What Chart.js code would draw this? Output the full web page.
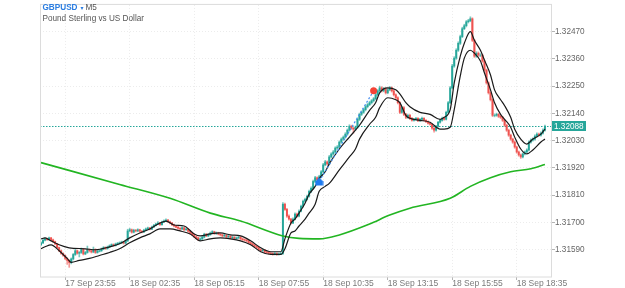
<!DOCTYPE html>
<html>
<head>
<meta charset="utf-8">
<title>GBPUSD M5</title>
<script src="https://cdn.jsdelivr.net/npm/chart.js@4.4.0/dist/chart.umd.min.js"></script>
<style>
  html, body { margin: 0; padding: 0; background: #fff; }
</style>
</head>
<body>
<canvas id="chart" width="625" height="288"></canvas>
<script>
const symbol = "GBPUSD";
const timeframe = "M5";
const description = "Pound Sterling vs US Dollar";

// bar index of each time label (one bar = 5 minutes)
const xTickIdx = [12, 44, 76, 108, 140, 172, 204, 236];
const xTickLabels = ["17 Sep 23:55", "18 Sep 02:35", "18 Sep 05:15", "18 Sep 07:55",
  "18 Sep 10:35", "18 Sep 13:15", "18 Sep 15:55", "18 Sep 18:35"];
const yTicks = [1.31590, 1.31700, 1.31810, 1.31920, 1.32030, 1.32140, 1.32250, 1.32360, 1.32470];

const open = [
1.31610,1.31617,1.31628,1.31633,1.31630,1.31637,1.31629,1.31622,1.31613,1.31598,
1.31585,1.31574,1.31566,1.31554,1.31546,1.31538,1.31552,1.31570,1.31585,1.31575,
1.31578,1.31590,1.31572,1.31578,1.31588,1.31585,1.31580,1.31590,1.31578,1.31583,
1.31585,1.31592,1.31598,1.31594,1.31600,1.31605,1.31610,1.31606,1.31612,1.31615,
1.31617,1.31620,1.31616,1.31625,1.31665,1.31670,1.31660,1.31668,1.31665,1.31670,
1.31664,1.31661,1.31668,1.31673,1.31677,1.31672,1.31681,1.31688,1.31693,1.31697,
1.31690,1.31701,1.31705,1.31709,1.31702,1.31697,1.31690,1.31685,1.31680,1.31676,
1.31673,1.31678,1.31670,1.31673,1.31664,1.31657,1.31650,1.31642,1.31637,1.31630,
1.31633,1.31640,1.31652,1.31645,1.31650,1.31657,1.31662,1.31654,1.31657,1.31652,
1.31649,1.31645,1.31648,1.31641,1.31644,1.31637,1.31640,1.31634,1.31637,1.31640,
1.31633,1.31630,1.31628,1.31625,1.31618,1.31613,1.31608,1.31603,1.31598,1.31590,
1.31585,1.31588,1.31580,1.31578,1.31575,1.31574,1.31571,1.31574,1.31570,1.31572,
1.31574,1.31773,1.31752,1.31725,1.31713,1.31697,1.31713,1.31733,1.31725,1.31745,
1.31765,1.31785,1.31793,1.31805,1.31825,1.31837,1.31865,1.31880,1.31872,1.31884,
1.31904,1.31932,1.31944,1.31936,1.31964,1.31976,1.31984,1.32000,1.32004,1.32024,
1.32036,1.32044,1.32056,1.32072,1.32088,1.32080,1.32076,1.32084,1.32116,1.32136,
1.32144,1.32155,1.32167,1.32175,1.32183,1.32191,1.32199,1.32215,1.32231,1.32243,
1.32231,1.32239,1.32223,1.32235,1.32243,1.32231,1.32215,1.32203,1.32183,1.32144,
1.32163,1.32136,1.32124,1.32132,1.32120,1.32112,1.32116,1.32120,1.32110,1.32116,
1.32120,1.32112,1.32106,1.32100,1.32096,1.32080,1.32072,1.32088,1.32104,1.32112,
1.32120,1.32116,1.32144,1.32183,1.32243,1.32331,1.32363,1.32395,1.32423,1.32450,
1.32482,1.32494,1.32510,1.32514,1.32522,1.32435,1.32371,1.32383,1.32375,1.32375,
1.32351,1.32315,1.32263,1.32223,1.32195,1.32132,1.32132,1.32136,1.32128,1.32124,
1.32112,1.32092,1.32072,1.32052,1.32036,1.32024,1.32004,1.31984,1.31972,1.31964,
1.31976,1.31984,1.31992,1.32024,1.32032,1.32036,1.32048,1.32056,1.32052,1.32060,
1.32072
];
const high = [
1.31621,1.31631,1.31637,1.31636,1.31640,1.31639,1.31632,1.31624,1.31615,1.31600,
1.31588,1.31577,1.31568,1.31557,1.31549,1.31556,1.31574,1.31592,1.31588,1.31582,
1.31596,1.31593,1.31583,1.31604,1.31592,1.31589,1.31600,1.31593,1.31588,1.31590,
1.31596,1.31602,1.31601,1.31604,1.31609,1.31613,1.31613,1.31616,1.31619,1.31621,
1.31624,1.31623,1.31629,1.31672,1.31676,1.31673,1.31672,1.31671,1.31674,1.31672,
1.31667,1.31672,1.31677,1.31681,1.31680,1.31685,1.31692,1.31697,1.31703,1.31700,
1.31705,1.31710,1.31714,1.31712,1.31705,1.31700,1.31693,1.31688,1.31684,1.31679,
1.31682,1.31680,1.31677,1.31675,1.31667,1.31660,1.31653,1.31645,1.31640,1.31637,
1.31644,1.31656,1.31655,1.31654,1.31661,1.31666,1.31664,1.31661,1.31660,1.31655,
1.31652,1.31652,1.31650,1.31648,1.31646,1.31644,1.31642,1.31641,1.31644,1.31642,
1.31636,1.31633,1.31631,1.31628,1.31621,1.31616,1.31611,1.31606,1.31601,1.31593,
1.31592,1.31590,1.31583,1.31581,1.31579,1.31577,1.31578,1.31577,1.31576,1.31578,
1.31780,1.31778,1.31756,1.31730,1.31716,1.31718,1.31738,1.31737,1.31750,1.31770,
1.31790,1.31798,1.31810,1.31830,1.31843,1.31870,1.31886,1.31884,1.31890,1.31909,
1.31938,1.31950,1.31948,1.31970,1.31981,1.31990,1.32005,1.32010,1.32029,1.32041,
1.32049,1.32062,1.32077,1.32094,1.32092,1.32084,1.32089,1.32122,1.32141,1.32150,
1.32160,1.32172,1.32180,1.32189,1.32196,1.32204,1.32220,1.32236,1.32250,1.32248,
1.32245,1.32243,1.32241,1.32249,1.32247,1.32235,1.32219,1.32207,1.32187,1.32168,
1.32167,1.32140,1.32137,1.32136,1.32124,1.32120,1.32124,1.32123,1.32120,1.32125,
1.32123,1.32115,1.32110,1.32104,1.32099,1.32084,1.32092,1.32108,1.32116,1.32125,
1.32124,1.32149,1.32188,1.32249,1.32338,1.32369,1.32401,1.32429,1.32456,1.32488,
1.32500,1.32515,1.32520,1.32530,1.32526,1.32439,1.32389,1.32388,1.32381,1.32379,
1.32355,1.32319,1.32267,1.32227,1.32199,1.32138,1.32141,1.32140,1.32132,1.32128,
1.32116,1.32096,1.32076,1.32056,1.32040,1.32028,1.32008,1.31988,1.31976,1.31980,
1.31988,1.31997,1.32029,1.32037,1.32041,1.32053,1.32061,1.32060,1.32065,1.32077,
1.32093
];
const low = [
1.31606,1.31614,1.31625,1.31627,1.31628,1.31626,1.31619,1.31610,1.31595,1.31581,
1.31570,1.31562,1.31549,1.31530,1.31518,1.31532,1.31548,1.31566,1.31571,1.31560,
1.31574,1.31568,1.31569,1.31575,1.31580,1.31576,1.31577,1.31574,1.31575,1.31580,
1.31582,1.31589,1.31590,1.31591,1.31597,1.31602,1.31603,1.31604,1.31609,1.31612,
1.31614,1.31612,1.31613,1.31622,1.31661,1.31656,1.31657,1.31661,1.31662,1.31660,
1.31657,1.31658,1.31665,1.31670,1.31669,1.31670,1.31678,1.31685,1.31690,1.31687,
1.31688,1.31698,1.31702,1.31699,1.31693,1.31686,1.31681,1.31677,1.31672,1.31669,
1.31670,1.31666,1.31667,1.31660,1.31653,1.31646,1.31638,1.31633,1.31626,1.31627,
1.31630,1.31637,1.31642,1.31642,1.31647,1.31654,1.31651,1.31651,1.31649,1.31645,
1.31641,1.31642,1.31637,1.31638,1.31633,1.31634,1.31630,1.31631,1.31634,1.31629,
1.31626,1.31624,1.31621,1.31614,1.31609,1.31604,1.31599,1.31594,1.31586,1.31581,
1.31582,1.31576,1.31574,1.31571,1.31570,1.31567,1.31568,1.31566,1.31567,1.31569,
1.31570,1.31748,1.31720,1.31709,1.31692,1.31694,1.31710,1.31721,1.31722,1.31742,
1.31761,1.31781,1.31789,1.31801,1.31820,1.31833,1.31860,1.31867,1.31868,1.31880,
1.31900,1.31928,1.31931,1.31932,1.31960,1.31971,1.31980,1.31995,1.32000,1.32020,
1.32031,1.32040,1.32052,1.32068,1.32075,1.32060,1.32071,1.32080,1.32111,1.32131,
1.32140,1.32150,1.32162,1.32171,1.32178,1.32186,1.32195,1.32211,1.32226,1.32226,
1.32227,1.32218,1.32219,1.32231,1.32226,1.32210,1.32198,1.32178,1.32139,1.32140,
1.32131,1.32119,1.32120,1.32115,1.32108,1.32108,1.32112,1.32106,1.32106,1.32113,
1.32108,1.32102,1.32096,1.32092,1.32075,1.32064,1.32068,1.32084,1.32100,1.32108,
1.32112,1.32113,1.32140,1.32179,1.32239,1.32326,1.32358,1.32390,1.32418,1.32446,
1.32478,1.32489,1.32505,1.32510,1.32430,1.32366,1.32366,1.32370,1.32369,1.32346,
1.32310,1.32258,1.32218,1.32190,1.32127,1.32126,1.32128,1.32123,1.32119,1.32107,
1.32087,1.32067,1.32047,1.32031,1.32019,1.31999,1.31979,1.31967,1.31958,1.31960,
1.31972,1.31980,1.31988,1.32020,1.32028,1.32032,1.32044,1.32048,1.32048,1.32056,
1.32068
];
const close = [
1.31617,1.31628,1.31633,1.31630,1.31637,1.31629,1.31622,1.31613,1.31598,1.31585,
1.31574,1.31566,1.31554,1.31546,1.31538,1.31552,1.31570,1.31585,1.31575,1.31578,
1.31590,1.31572,1.31578,1.31588,1.31585,1.31580,1.31590,1.31578,1.31583,1.31585,
1.31592,1.31598,1.31594,1.31600,1.31605,1.31610,1.31606,1.31612,1.31615,1.31617,
1.31620,1.31616,1.31625,1.31665,1.31670,1.31660,1.31668,1.31665,1.31670,1.31664,
1.31661,1.31668,1.31673,1.31677,1.31672,1.31681,1.31688,1.31693,1.31697,1.31690,
1.31701,1.31705,1.31709,1.31702,1.31697,1.31690,1.31685,1.31680,1.31676,1.31673,
1.31678,1.31670,1.31673,1.31664,1.31657,1.31650,1.31642,1.31637,1.31630,1.31633,
1.31640,1.31652,1.31645,1.31650,1.31657,1.31662,1.31654,1.31657,1.31652,1.31649,
1.31645,1.31648,1.31641,1.31644,1.31637,1.31640,1.31634,1.31637,1.31640,1.31633,
1.31630,1.31628,1.31625,1.31618,1.31613,1.31608,1.31603,1.31598,1.31590,1.31585,
1.31588,1.31580,1.31578,1.31575,1.31574,1.31571,1.31574,1.31570,1.31572,1.31574,
1.31773,1.31752,1.31725,1.31713,1.31697,1.31713,1.31733,1.31725,1.31745,1.31765,
1.31785,1.31793,1.31805,1.31825,1.31837,1.31865,1.31880,1.31872,1.31884,1.31904,
1.31932,1.31944,1.31936,1.31964,1.31976,1.31984,1.32000,1.32004,1.32024,1.32036,
1.32044,1.32056,1.32072,1.32088,1.32080,1.32076,1.32084,1.32116,1.32136,1.32144,
1.32155,1.32167,1.32175,1.32183,1.32191,1.32199,1.32215,1.32231,1.32243,1.32231,
1.32239,1.32223,1.32235,1.32243,1.32231,1.32215,1.32203,1.32183,1.32144,1.32163,
1.32136,1.32124,1.32132,1.32120,1.32112,1.32116,1.32120,1.32110,1.32116,1.32120,
1.32112,1.32106,1.32100,1.32096,1.32080,1.32072,1.32088,1.32104,1.32112,1.32120,
1.32116,1.32144,1.32183,1.32243,1.32331,1.32363,1.32395,1.32423,1.32450,1.32482,
1.32494,1.32510,1.32514,1.32522,1.32435,1.32371,1.32383,1.32375,1.32375,1.32351,
1.32315,1.32263,1.32223,1.32195,1.32132,1.32132,1.32136,1.32128,1.32124,1.32112,
1.32092,1.32072,1.32052,1.32036,1.32024,1.32004,1.31984,1.31972,1.31964,1.31976,
1.31984,1.31992,1.32024,1.32032,1.32036,1.32048,1.32056,1.32052,1.32060,1.32072,
1.32088
];

// envelope lines (read at these bar indices)
const upperIdx = [0,2,5,9,14,22,27,34,39,44,49,54,59,62,66,71,76,79,84,89,94,99,104,109,114,119,121,124,126,128,
  131,133,136,138,141,143,148,153,158,163,166,168,172,176,178,181,183,188,193,198,200,203,205,208,210,213,215,218,220,223,
  225,228,230,233,235,238,241,244,248,250];
const upperVal = [1.31633,1.31637,1.31625,1.31609,1.31597,1.31593,1.31589,1.31601,1.31613,1.31637,
  1.31657,1.31673,1.31697,1.31705,1.31689,1.31685,1.31653,1.31645,1.31653,1.31657,
  1.31649,1.31645,1.31625,1.31597,1.31581,1.31581,1.31633,1.31697,1.31713,1.31737,
  1.31777,1.31813,1.31845,1.31876,1.31904,1.31936,1.31996,1.32044,1.32092,1.32152,
  1.32183,1.32223,1.32243,1.32235,1.32219,1.32183,1.32167,1.32144,1.32136,1.32116,
  1.32124,1.32155,1.32263,1.32371,1.32423,1.32470,1.32435,1.32395,1.32355,1.32295,
  1.32235,1.32195,1.32171,1.32124,1.32076,1.32036,1.32016,1.32036,1.32056,1.32076];
const lowerIdx = [0,2,5,9,13,15,19,24,29,34,39,44,49,54,59,64,69,74,79,84,89,94,99,104,109,114,119,121,124,126,
  128,131,133,136,138,141,143,148,153,156,158,163,166,168,172,176,178,181,183,188,193,198,200,203,205,208,210,213,215,218,
  220,223,225,228,230,233,235,238,241,244,248,250];
const lowerVal = [1.31593,1.31601,1.31609,1.31585,1.31554,1.31538,1.31546,1.31554,1.31566,1.31578,
  1.31593,1.31617,1.31637,1.31653,1.31673,1.31673,1.31665,1.31653,1.31625,1.31633,
  1.31637,1.31633,1.31625,1.31609,1.31581,1.31570,1.31570,1.31593,1.31657,1.31665,
  1.31685,1.31713,1.31737,1.31773,1.31825,1.31845,1.31857,1.31912,1.31964,1.31996,
  1.32036,1.32096,1.32124,1.32163,1.32203,1.32195,1.32183,1.32132,1.32120,1.32112,
  1.32104,1.32076,1.32076,1.32084,1.32155,1.32291,1.32363,1.32395,1.32383,1.32351,
  1.32303,1.32235,1.32183,1.32136,1.32116,1.32084,1.32044,1.31996,1.31976,1.31992,
  1.32024,1.32036];

// long moving average (green)
const maIdx = [0,39,64,84,99,120,128,138,148,163,173,183,203,213,223,233,243,250];
const maVal = [1.31941,1.31853,1.31797,1.31737,1.31705,1.31645,1.31635,1.31633,1.31649,
  1.31693,1.31729,1.31757,1.31797,1.31845,1.31880,1.31904,1.31916,1.31933];

// trade: buy arrow -> exit dot
const tradeIdx = [138, 165];
const tradePrice = [1.31865, 1.32231];

const bull = '#26a69a';
const bear = '#ef5350';
const bullWick = 'rgba(38,166,154,0.6)';
const bearWick = 'rgba(239,83,80,0.6)';

Chart.defaults.font.family = "'Liberation Sans', Arial, 'DejaVu Sans', sans-serif";

const isUp = close.map((c, i) => c >= open[i]);
const pairs = (xs, ys) => xs.map((x, i) => ({ x: x, y: ys[i] }));

// small "buy" arrow used as point style
const buyArrow = document.createElement('canvas');
buyArrow.width = 9;
buyArrow.height = 9;
(function () {
  const c = buyArrow.getContext('2d');
  c.fillStyle = '#1e7bf0';
  c.beginPath();
  c.moveTo(4.5, 0.5);
  c.lineTo(8.5, 4.5);
  c.lineTo(8.5, 8.5);
  c.lineTo(0.5, 8.5);
  c.lineTo(0.5, 4.5);
  c.closePath();
  c.fill();
})();

const overlay = {
  id: 'overlay',
  beforeDatasetsDraw(chart) {
    const { ctx, chartArea: a, scales } = chart;
    const py = Math.round(scales.y.getPixelForValue(close[close.length - 1])) + 0.5;
    ctx.save();
    ctx.strokeStyle = bull;
    ctx.lineWidth = 1;
    ctx.setLineDash([1.5, 1.5]);
    ctx.beginPath();
    ctx.moveTo(a.left, py);
    ctx.lineTo(a.right, py);
    ctx.stroke();
    ctx.restore();
  },
  afterDraw(chart) {
    const { ctx, chartArea: a, scales } = chart;
    ctx.save();
    // frame
    ctx.strokeStyle = '#dcdcdc';
    ctx.lineWidth = 1;
    ctx.strokeRect(a.left + 0.5, a.top - 0.5, a.right - a.left - 1, a.bottom - a.top + 0.5);

    // last price tag
    const last = close[close.length - 1];
    const py = Math.round(scales.y.getPixelForValue(last));
    ctx.fillStyle = bull;
    ctx.fillRect(a.right, py - 5, 34, 10);
    ctx.fillStyle = '#fff';
    ctx.font = "8.2px 'Liberation Sans', Arial, sans-serif";
    ctx.textBaseline = 'middle';
    ctx.textAlign = 'left';
    ctx.fillText(last.toFixed(5), a.right + 2, py + 0.5);

    // symbol caption
    ctx.textBaseline = 'alphabetic';
    let x = a.left + 2.5;
    ctx.font = "bold 8.2px 'Liberation Sans', Arial, sans-serif";
    ctx.fillStyle = '#2a7de1';
    ctx.fillText(symbol, x, 10);
    x += ctx.measureText(symbol).width + 3;
    ctx.font = "6px 'DejaVu Sans', sans-serif";
    ctx.fillText('\u25BE', x, 9.5);
    x += ctx.measureText('\u25BE').width + 2;
    ctx.font = "8.2px 'Liberation Sans', Arial, sans-serif";
    ctx.fillStyle = '#555';
    ctx.fillText(timeframe, x, 10);
    ctx.fillText(description, a.left + 2.5, 21);
    ctx.restore();
  }
};

new Chart(document.getElementById('chart'), {
  type: 'bar',
  data: {
    datasets: [
      {
        type: 'line',
        label: 'trade',
        data: pairs(tradeIdx, tradePrice),
        borderColor: '#4a90f0',
        borderWidth: 1.2,
        borderDash: [2, 2],
        pointStyle: [buyArrow, 'circle'],
        pointRadius: [4.5, 3.5],
        pointBackgroundColor: ['#1e7bf0', '#f44336'],
        pointBorderWidth: 0,
        order: 0
      },
      {
        type: 'line',
        label: 'upper',
        data: pairs(upperIdx, upperVal),
        borderColor: '#1a1a1a',
        borderWidth: 1.2,
        pointRadius: 0,
        cubicInterpolationMode: 'monotone',
        order: 1
      },
      {
        type: 'line',
        label: 'lower',
        data: pairs(lowerIdx, lowerVal),
        borderColor: '#1a1a1a',
        borderWidth: 1.2,
        pointRadius: 0,
        cubicInterpolationMode: 'monotone',
        order: 1
      },
      {
        type: 'line',
        label: 'MA',
        data: pairs(maIdx, maVal),
        borderColor: '#22b522',
        borderWidth: 1.6,
        pointRadius: 0,
        cubicInterpolationMode: 'monotone',
        order: 2
      },
      {
        label: 'body',
        data: close.map((c, i) => ({ x: i, y: [open[i], c] })),
        backgroundColor: isUp.map(u => u ? bull : bear),
        barThickness: 1.3,
        grouped: false,
        order: 3
      },
      {
        label: 'wick',
        data: close.map((c, i) => ({ x: i, y: [low[i], high[i]] })),
        backgroundColor: isUp.map(u => u ? bullWick : bearWick),
        barThickness: 1,
        grouped: false,
        order: 4
      }
    ]
  },
  options: {
    responsive: false,
    animation: false,
    devicePixelRatio: 1,
    events: [],
    layout: { padding: { left: 40, top: 1, right: 0, bottom: 0 } },
    plugins: { legend: { display: false }, tooltip: { enabled: false } },
    scales: {
      x: {
        type: 'linear',
        min: -0.5,
        max: 253.5,
        offset: false,
        afterBuildTicks: axis => { axis.ticks = xTickIdx.map(v => ({ value: v })); },
        afterFit: axis => { axis.height = 11; },
        grid: { offset: false, color: '#ececec', tickColor: '#b5b5b5', tickLength: 3, drawTicks: true },
        border: { display: false, dash: [1, 2] },
        ticks: {
          autoSkip: false,
          maxRotation: 0,
          align: 'start',
          padding: -1,
          color: '#7a7a7a',
          font: { size: 8.5 },
          callback: (v, i) => xTickLabels[i]
        }
      },
      y: {
        type: 'linear',
        position: 'right',
        min: 1.31479,
        max: 1.32578,
        afterBuildTicks: axis => { axis.ticks = yTicks.map(v => ({ value: v })); },
        afterFit: axis => { axis.width = 73; },
        grid: { color: '#ececec', tickColor: '#b5b5b5', tickLength: 3, drawTicks: true },
        border: { display: false, dash: [1, 2] },
        ticks: {
          padding: 0,
          color: '#666',
          font: { size: 8.2 },
          callback: v => v.toFixed(5)
        }
      }
    }
  },
  plugins: [overlay]
});
</script>
</body>
</html>
